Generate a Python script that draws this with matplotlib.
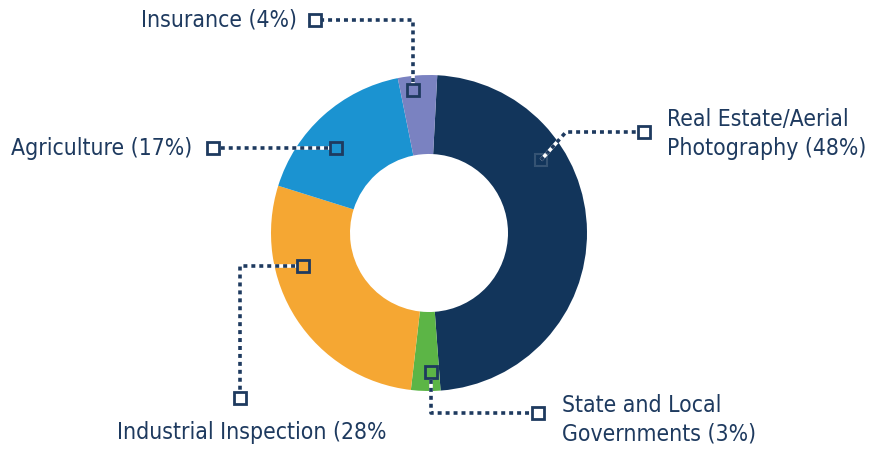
import matplotlib.pyplot as plt

# data
labels = ['Real Estate/Aerial\nPhotography (48%)', 'State and Local\nGovernments (3%)',
          'Industrial Inspection (28%', 'Agriculture (17%)', 'Insurance (4%)']
shares = [48, 3, 28, 17, 4]
colors = ['#12355b', '#5cb546', '#f5a733', '#1b93d1', '#7a82c1']

W, H = 870, 451
navy = '#1e3a5f'

plt.rcParams['font.family'] = ['DejaVu Sans']
plt.rcParams['font.stretch'] = 'condensed'

fig = plt.figure(figsize=(W / 100, H / 100), dpi=100)
ax = fig.add_axes([0, 0, 1, 1])

def P(x, y):
    # pixel coords (y down) -> axes coords (y up)
    return x, H - y

cx, cy = P(429, 233)
ax.pie(shares, colors=colors, radius=158, center=(cx, cy), startangle=87,
       counterclock=False, wedgeprops=dict(width=79, linewidth=0))

# leader lines: path from inner point to outer marker, inner marker face, text anchor
leaders = [
    ([(541, 160), (566, 132), (644, 132)], None, (667, 134), 'left'),
    ([(431, 372), (431, 413), (538, 413)], colors[1], (562, 420), 'left'),
    ([(303, 266), (240, 266), (240, 398)], colors[2], (117, 433), 'left'),
    ([(336, 148), (213, 148)], colors[3], (192, 149), 'right'),
    ([(413, 90), (413, 20), (315, 20)], colors[4], (297, 20), 'right'),
]

for i, (path, face, txt, ha) in enumerate(leaders):
    xs = [P(*p)[0] for p in path]
    ys = [P(*p)[1] for p in path]
    ax.plot(xs, ys, color='white', lw=2.6, solid_capstyle='butt', zorder=3)
    ax.plot(xs, ys, color=navy, lw=2.6, dashes=(1.1, 1.1),
            dash_capstyle='butt', zorder=4)
    ax.plot(xs[-1], ys[-1], marker='s', ms=8, mfc='white', mec=navy, mew=2, zorder=5)
    if face is not None:
        ax.plot(xs[0], ys[0], marker='s', ms=8, mfc=face, mec=navy, mew=2, zorder=5)
    else:
        ax.plot(xs[0], ys[0], marker='s', ms=8, mfc='none', mec='white',
                mew=1.5, alpha=0.15, zorder=5)
    tx, ty = P(*txt)
    ax.text(tx, ty, labels[i], ha=ha, va='center', fontsize=16.5, color=navy,
            linespacing=1.3, zorder=6)

ax.set_xlim(0, W)
ax.set_ylim(0, H)
ax.set_aspect('equal')
ax.axis('off')

fig.savefig('out.png', dpi=100, facecolor='white')
